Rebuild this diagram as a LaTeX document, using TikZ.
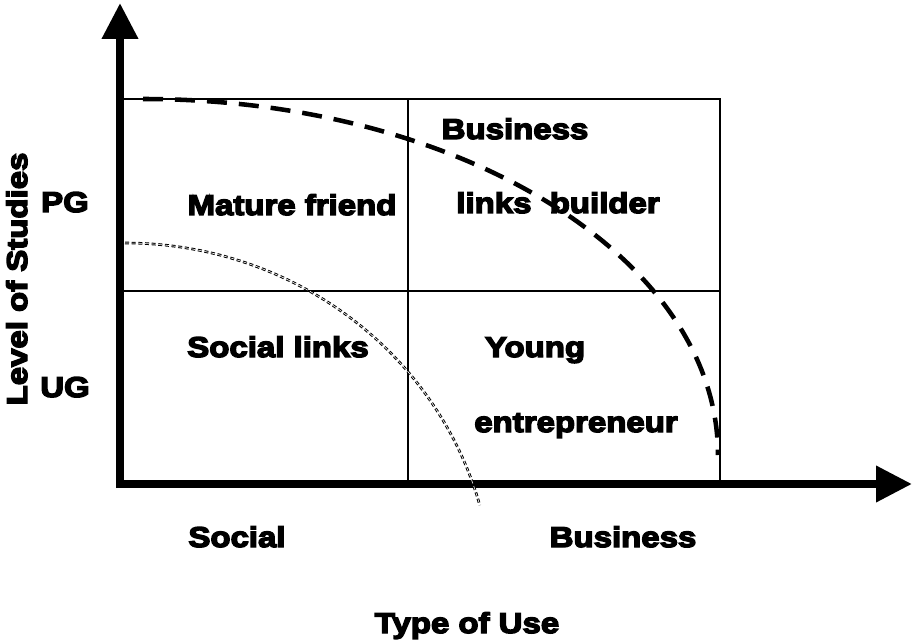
\documentclass[tikz,border=0pt]{standalone}
\usepackage{fontspec}
\newfontfamily\blk{Liberation Sans}[FakeStretch=1.15,FakeBold=5]
\usetikzlibrary{arrows.meta}
\begin{document}
\begin{tikzpicture}[x=0.75pt,y=-0.75pt,
  lbl/.style={font=\blk\bfseries\fontsize{21.5}{25}\selectfont, inner sep=0pt, anchor=base},
  axisline/.style={line width=6pt, -{Triangle[length=27pt,width=26pt]}},
  gridline/.style={line width=1.1pt},
  bigcurve/.style={line width=3.4pt, dash pattern=on 15pt off 9pt},
  smallcurve/.style={line width=0.75pt, double, double distance=0.45pt, dash pattern=on 3pt off 2pt}]
\useasboundingbox (0,0) rectangle (912,641);
% grid
\draw[gridline] (120,99) -- (720,99) -- (720,484);
\draw[gridline] (408,99) -- (408,484);
\draw[gridline] (120,291) -- (720,291);
% axes
\coordinate (o1) at (120,488);
\coordinate (ytip) at (120,3);
\coordinate (o2) at (116,484);
\coordinate (xtip) at (912,484);
\draw[axisline] (o1) -- (ytip);
\draw[axisline] (o2) -- (xtip);
% curves
\coordinate (bigstart) at (143,99);
\coordinate (smallstart) at (125,243);
\draw[bigcurve] (bigstart) arc[start angle=-90, end angle=0, x radius=575, y radius=356];
\draw[smallcurve] (smallstart) arc[start angle=-90, end angle=-15.4, x radius=368, y radius=357];
% labels
\node[lbl] (mature) at (292,215) {Mature friend};
\node[lbl] (bus1) at (515,139) {Business};
\node[lbl] (links) at (558,213) {links\ \ builder};
\node[lbl] (social1) at (278,357) {Social links};
\node[lbl] (young) at (535,357) {Young};
\node[lbl] (entre) at (576,432) {entrepreneur};
\node[lbl] (pg) at (65,212) {PG};
\node[lbl] (ug) at (65,397) {UG};
\node[lbl] (soc) at (237,547) {Social};
\node[lbl] (bus2) at (623,547) {Business};
\node[lbl] (type) at (467,633) {Type of Use};
\node[lbl, rotate=90] (level) at (27,279) {Level of Studies};
\end{tikzpicture}
\end{document}
